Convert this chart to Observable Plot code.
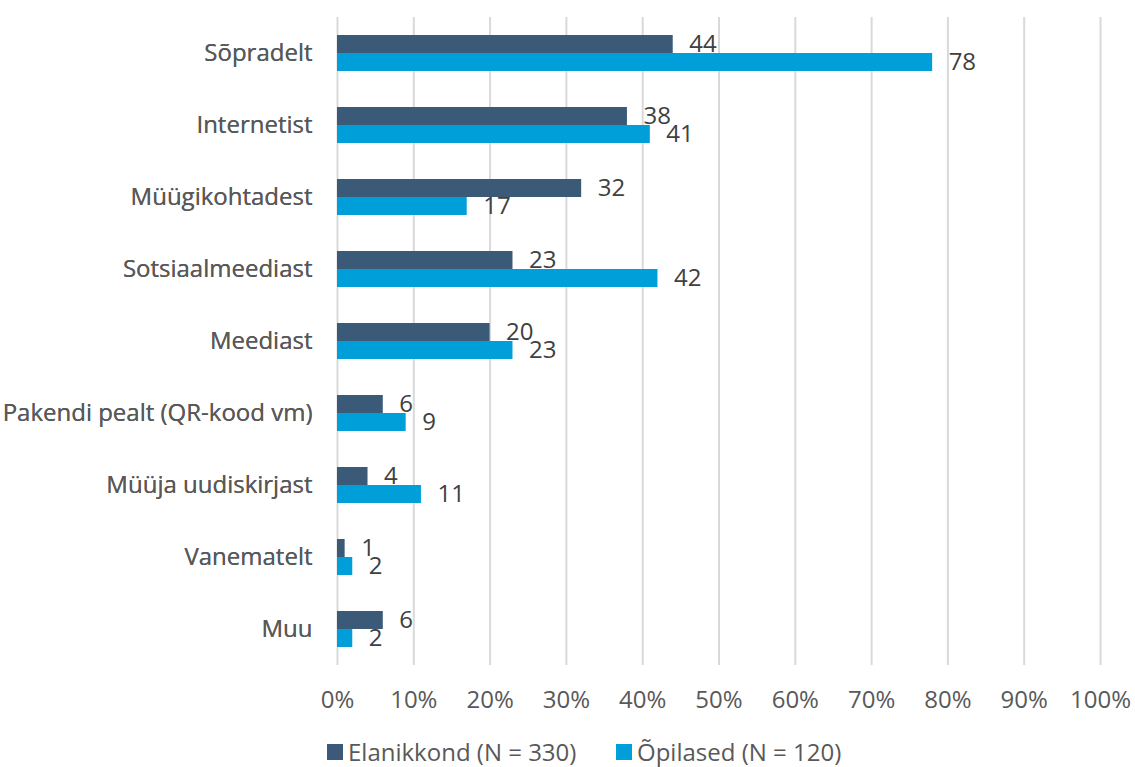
<!DOCTYPE html>
<html>
<head>
<meta charset="utf-8">
<script src="https://cdn.jsdelivr.net/npm/d3@7"></script>
<script src="https://cdn.jsdelivr.net/npm/@observablehq/plot@0.6"></script>
<style>
  body { margin: 0; background: #fff; font-family: "Open Sans", sans-serif; }
  #wrap { position: relative; width: 1135px; height: 767px; }
  .leg { position: absolute; top: 739px; height: 26px; line-height: 26px; display: flex; align-items: center; font-size: 24px; color: #595959; white-space: nowrap; }
  .sw { width: 16px; height: 16px; display: inline-block; margin-right: 5px; }
</style>
</head>
<body>
<div id="wrap">
  <div id="chart"></div>
  <div class="leg" style="left:327px"><span class="sw" style="background:#3a5a78"></span>Elanikkond (N = 330)</div>
  <div class="leg" style="left:616px"><span class="sw" style="background:#009fd9"></span>Õpilased (N = 120)</div>
</div>
<script>
const categories = ["Sõpradelt","Internetist","Müügikohtadest","Sotsiaalmeediast","Meediast","Pakendi pealt (QR-kood vm)","Müüja uudiskirjast","Vanematelt","Muu"];
const series = ["Elanikkond (N = 330)", "Õpilased (N = 120)"];
const elanikkond = [44, 38, 32, 23, 20, 6, 4, 1, 6];
const opilased = [78, 41, 17, 42, 23, 9, 11, 2, 2];
const colors = ["#3a5a78", "#009fd9"];
const xTicks = [0, 0.1, 0.2, 0.3, 0.4, 0.5, 0.6, 0.7, 0.8, 0.9, 1];

const data = [];
categories.forEach((c, i) => {
  data.push({cat: c, s: series[0], v: elanikkond[i]});
  data.push({cat: c, s: series[1], v: opilased[i]});
});

const chart = Plot.plot({
  width: 1135,
  height: 725,
  marginLeft: 337,
  marginRight: 35,
  marginTop: 14,
  marginBottom: 58,
  style: {fontFamily: "Open Sans, sans-serif", fontSize: "24px", color: "#595959", background: "#fff"},
  x: {domain: [0, 1], ticks: xTicks, tickFormat: d3.format(".0%"), tickSize: 0, tickPadding: 25, label: null},
  fy: {domain: categories, padding: 0, label: null, tickSize: 0, tickPadding: 25, axis: "left"},
  y: {domain: series, paddingInner: 0, paddingOuter: 0.903, axis: null},
  color: {domain: series, range: colors},
  marks: [
    Plot.ruleX(xTicks, {stroke: "#d9d9d9", strokeWidth: 2}),
    Plot.barX(data, {x: d => d.v / 100, y: "s", fy: "cat", fill: "s"}),
    Plot.text(data, {x: d => d.v / 100, y: "s", fy: "cat", text: d => String(d.v), dx: 16, textAnchor: "start", fill: "#404040", fontSize: 24}),
    Plot.axisX({ticks: xTicks, tickFormat: d3.format(".0%"), tickSize: 0, tickPadding: 25, label: null, fill: "#595959"}),
    Plot.axisFy({anchor: "left", tickSize: 0, tickPadding: 25, label: null, fill: "#595959"})
  ]
});
document.getElementById("chart").appendChild(chart);
</script>
</body>
</html>
